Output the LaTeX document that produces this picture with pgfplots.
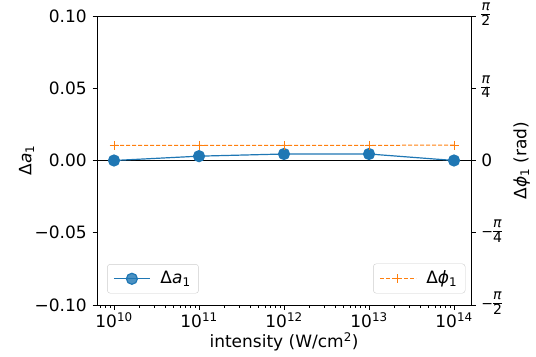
\documentclass[border=0pt]{standalone}
\usepackage{pgfplots}
\pgfplotsset{compat=1.18}
\usepackage{fontspec}
\setmainfont{DejaVu Sans}
\definecolor{tabblue}{HTML}{1F77B4}
\definecolor{taborange}{HTML}{FF7F0E}
\newcommand{\pf}[2]{{\fontsize{14bp}{14bp}\selectfont #1\renewcommand{\arraystretch}{0.8}\setlength{\arrayrulewidth}{0.9bp}\begin{tabular}{@{}c@{}}\textit{π}\\\hline #2\end{tabular}}}
\pgfplotsset{
    every tick/.style={black, line width=0.8bp},
    major tick length=4.5bp, minor tick length=2.5bp,
    tick align=outside,
    tick label style={font=\fontsize{17bp}{19bp}\selectfont},
    label style={font=\fontsize{17bp}{19bp}\selectfont},
    legend style={font=\fontsize{17bp}{19bp}\selectfont, draw=black!20, rounded corners=3bp,
      fill=white, fill opacity=0.8, text opacity=1, inner xsep=6bp, inner ysep=5bp,
      cells={anchor=west}},
    legend image code/.code={\draw[mark repeat=2,mark phase=2,#1] plot coordinates {(0bp,0bp) (18bp,0bp) (36bp,0bp)};},
}
\begin{document}
\fontsize{17bp}{19bp}\selectfont
\begin{tikzpicture}
\useasboundingbox (0bp,0bp) rectangle (536bp,357bp);
\begin{axis}[
  at={(97bp,52bp)}, anchor=south west,
  width=374bp, height=289bp, scale only axis,
  xmode=log, xmin=6.31e9, xmax=1.585e14,
  axis line style={line width=0.8bp},
  ymin=-0.1, ymax=0.1,
  ytick={-0.1,-0.05,0,0.05,0.1},
  yticklabels={−0.10,−0.05,0.00,0.05,0.10},
  ytick pos=left, xtick pos=bottom,
  xtick={1e10,1e11,1e12,1e13,1e14},
  xticklabels={10\textsuperscript{10},10\textsuperscript{11},10\textsuperscript{12},10\textsuperscript{13},10\textsuperscript{14}},
  minor xtick={7e9,8e9,9e9,2e10,3e10,4e10,5e10,6e10,7e10,8e10,9e10,2e11,3e11,4e11,5e11,6e11,7e11,8e11,9e11,2e12,3e12,4e12,5e12,6e12,7e12,8e12,9e12,2e13,3e13,4e13,5e13,6e13,7e13,8e13,9e13},
  xticklabel shift=-3bp,
  xlabel={intensity (W/cm\textsuperscript{2})},
  xlabel shift=-7bp,
  ylabel={Δ\textit{a}\textsubscript{1}},
  ylabel shift=-11bp,
  legend style={at={(0.027,0.04)}, anchor=south west},
]
\addplot[black, line width=0.8bp, forget plot] coordinates {(6.31e9,0) (1.585e14,0)};
\addplot[tabblue, line width=1.2bp, mark=*, mark size=5.5bp, mark options={fill=tabblue, draw=tabblue}]
  coordinates {(1e10,0.0) (1e11,0.003) (1e12,0.0045) (1e13,0.0045) (1e14,0.0)};
\addlegendentry{\hspace*{8bp}Δ\textit{a}\textsubscript{1}}
\end{axis}
\begin{axis}[
  at={(97bp,52bp)}, anchor=south west,
  width=374bp, height=289bp, scale only axis,
  xmode=log, xmin=6.31e9, xmax=1.585e14,
  axis line style={line width=0.8bp},
  ymin=-1.5707963, ymax=1.5707963,
  axis x line=none,
  axis y line*=right,
  ytick={-1.5707963,-0.7853982,0,0.7853982,1.5707963},
  yticklabels={\pf{−}{2},\pf{−}{4},0,\pf{}{4},\pf{}{2}},
  ylabel={Δ\textit{ϕ}\textsubscript{1} (rad)},
  legend style={at={(0.985,0.04)}, anchor=south east},
]
\addplot[taborange, line width=1bp, dash pattern=on 4bp off 2bp, mark=+, mark size=4.5bp, mark options={solid, line width=1bp}]
  coordinates {(1e10,0.165) (1e11,0.165) (1e12,0.165) (1e13,0.165) (1e14,0.167)};
\addlegendentry{\hspace*{8bp}Δ\textit{ϕ}\textsubscript{1}}
\end{axis}
\end{tikzpicture}
\end{document}
